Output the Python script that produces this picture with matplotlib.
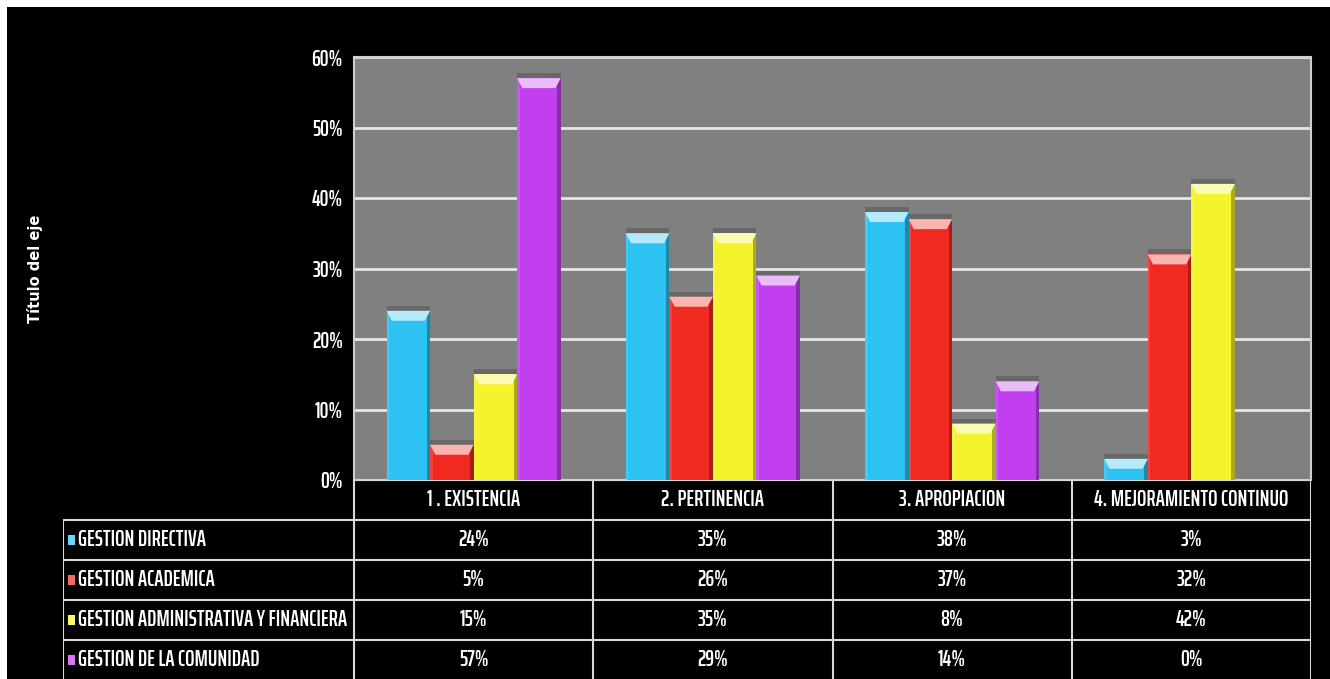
import matplotlib
matplotlib.use('Agg')
import matplotlib.pyplot as plt
from matplotlib import font_manager
from matplotlib.patches import Rectangle, Polygon
import matplotlib.colors as mcolors
import numpy as np

# ---------------- data ----------------
categories = ["1 . EXISTENCIA", "2. PERTINENCIA", "3. APROPIACION", "4. MEJORAMIENTO CONTINUO"]
series_names = ["GESTION DIRECTIVA", "GESTION ACADEMICA",
                "GESTION ADMINISTRATIVA Y FINANCIERA", "GESTION DE LA COMUNIDAD"]
gestion_directiva = [24, 35, 38, 3]
gestion_academica = [5, 26, 37, 32]
gestion_administrativa = [15, 35, 8, 42]
gestion_comunidad = [57, 29, 14, 0]
y_ticks = [0, 10, 20, 30, 40, 50, 60]
y_axis_title = "Título del eje"

series_values = [gestion_directiva, gestion_academica, gestion_administrativa, gestion_comunidad]
series_colors = ["#2cc3f2", "#f02a20", "#f4f42c", "#c23ff0"]

# ---------------- fonts ----------------
avail = {f.name for f in font_manager.fontManager.ttflist}
FAM = next((f for f in ['Saira ExtraCondensed', 'Saira Condensed', 'Barlow Condensed',
                        'Roboto Condensed', 'DejaVu Sans'] if f in avail), 'DejaVu Sans')
FONT = dict(family=FAM, weight=600)
FS = 16

W, H = 1330, 679
fig = plt.figure(figsize=(W / 100, H / 100), dpi=100)
fig.patch.set_facecolor('white')
fig.patches.append(Rectangle((7 / W, 0), 1 - 7 / W, 1 - 7 / H, transform=fig.transFigure,
                             facecolor='black', edgecolor='none', zorder=-10))

def fx(px):
    return px / W

def fy(py):
    return 1 - py / H

# plot area pixel bounds
PL, PR, PT, PB = 354, 1311, 57, 480
ax = fig.add_axes([fx(PL), fy(PB), fx(PR) - fx(PL), fy(PT) - fy(PB)])
ax.set_facecolor('#808080')
ax.set_xlim(-0.5, len(categories) - 0.5)
ax.set_ylim(0, 60)
ax.set_axisbelow(True)
ax.yaxis.grid(True, color='#e6e6e6', linewidth=2.0)
ax.set_xticks([])
ax.set_yticks(y_ticks)
ax.set_yticklabels([f"{t}%" for t in y_ticks], color='white', fontsize=FS, **FONT)
ax.tick_params(axis='y', length=0, pad=8)
for sp in ax.spines.values():
    sp.set_color('#cfcfcf')
    sp.set_linewidth(1.5)

bw = 0.182
px_per_pct = (PB - PT) / 60.0
cap_h = 10 / px_per_pct
shadow_h = 5 / px_per_pct

def mix(c, other, t):
    a = np.array(mcolors.to_rgb(c))
    b = np.array(mcolors.to_rgb(other))
    return tuple(a * (1 - t) + b * t)

n = len(series_values)
x = np.arange(len(categories))
for s, (vals, col) in enumerate(zip(series_values, series_colors)):
    offs = (s - (n - 1) / 2) * bw
    ax.bar(x + offs, vals, width=bw, color=col, edgecolor='none', zorder=3)
    for c, v in enumerate(vals):
        if v <= 0:
            continue
        x0 = c + offs - bw / 2
        # soft shadow above the bar
        ax.add_patch(Rectangle((x0, v), bw, shadow_h, facecolor='black', alpha=0.18,
                               edgecolor='none', zorder=2.5))
        # darker right edge / lighter left edge
        ax.add_patch(Rectangle((x0 + bw * 0.92, 0), bw * 0.08, v, facecolor=mix(col, 'black', 0.3),
                               edgecolor='none', zorder=3.1))
        ax.add_patch(Rectangle((x0, 0), bw * 0.06, v, facecolor=mix(col, 'white', 0.12),
                               edgecolor='none', zorder=3.1))
        # bevelled top cap
        ch = min(cap_h, v)
        inset = bw * 0.12
        ax.add_patch(Polygon([(x0, v), (x0 + bw, v), (x0 + bw - inset, v - ch), (x0 + inset, v - ch)],
                             closed=True, facecolor=mix(col, 'white', 0.65), edgecolor='none', zorder=3.2))

# y axis title
fig.text(fx(35), fy((PT + PB) / 2), y_axis_title, rotation=90, color='white',
         fontsize=10.5, fontweight='heavy', family='DejaVu Sans', ha='center', va='center')

# ---------------- data table ----------------
TL = 63
row_h = 40
units_per_px = 1.0 / ((PR - PL) / len(categories))
tax = fig.add_axes([fx(TL), 0, fx(PR) - fx(TL), fy(PB)])
tax.set_xlim(-0.5 - (PL - TL) * units_per_px, len(categories) - 0.5)
n_rows_px = (H - PB) / row_h
tax.set_ylim(n_rows_px, 0)
tax.axis('off')
tax.patch.set_alpha(0)

line_kw = dict(color='#d9d9d9', linewidth=1.5, solid_capstyle='butt')
left_edge = tax.get_xlim()[0]
right_edge = len(categories) - 0.5
# horizontal lines
tax.plot([-0.5, right_edge], [0, 0], **line_kw)
for r in range(1, len(series_names) + 1):
    tax.plot([left_edge, right_edge], [r, r], **line_kw)
# vertical lines
for b in np.arange(len(categories) + 1) - 0.5:
    tax.plot([b, b], [0, n_rows_px], **line_kw)
tax.plot([left_edge, left_edge], [1, n_rows_px], **line_kw)

# header
for c, name in enumerate(categories):
    tax.text(c, 0.5, name, color='white', fontsize=FS, ha='center', va='center', **FONT)

# rows
key_w = 7 * units_per_px
for r, (name, vals, col) in enumerate(zip(series_names, series_values, series_colors)):
    yc = r + 1.5
    tax.add_patch(Rectangle((left_edge + 5 * units_per_px, yc - 0.13), key_w, 0.26,
                            facecolor=mix(col, 'white', 0.3), edgecolor='none'))
    tax.text(left_edge + 15 * units_per_px, yc, name, color='white', fontsize=FS,
             ha='left', va='center', **FONT)
    for c, v in enumerate(vals):
        tax.text(c, yc, f"{v}%", color='white', fontsize=FS, ha='center', va='center', **FONT)

fig.savefig('out.png', dpi=100, facecolor=fig.get_facecolor())
